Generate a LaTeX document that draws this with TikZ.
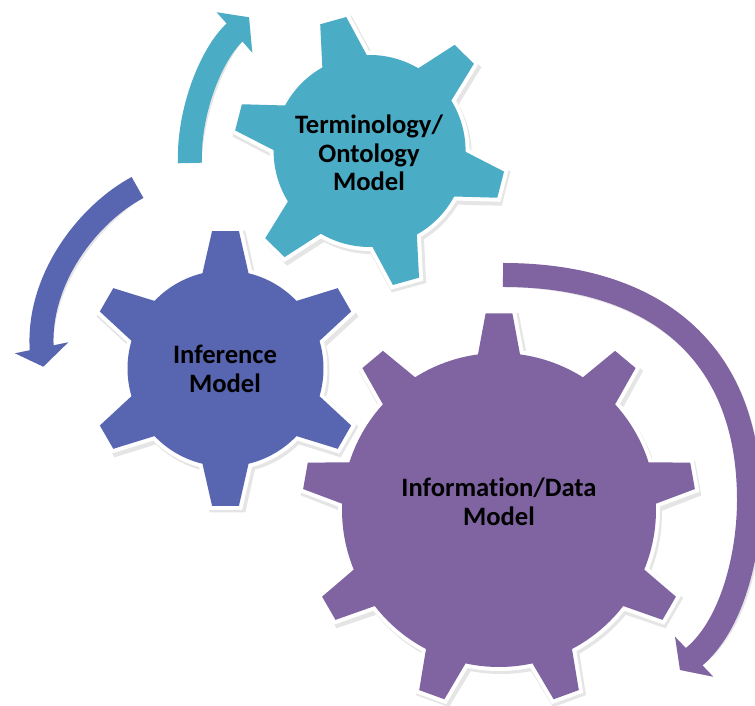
\documentclass[tikz,border=0pt]{standalone}
\usepackage{fontspec}
\setmainfont{Carlito}[Ligatures=NoCommon]
\definecolor{tealc}{RGB}{75,172,198}
\definecolor{bluec}{RGB}{88,102,177}
\definecolor{purplec}{RGB}{128,100,162}
\newcommand{\gearshape}[6]{%
 ({#4+#6}:#1)
 \foreach \k in {1,...,#3}{
   -- ({#4-360/#3*(\k-1)+#5}:#2) -- ({#4-360/#3*(\k-1)-#5}:#2) -- ({#4-360/#3*(\k-1)-#6}:#1)
   arc[start angle={#4-360/#3*(\k-1)-#6}, end angle={#4-360/#3*\k+#6}, radius=#1]
 } -- cycle}
\tikzset{
  gearbody/.style={fill=#1, preaction={draw=white, line width=8pt, line join=miter}},
  gearshadow/.style={fill=black, fill opacity=0.10},
  shaft/.style={draw=#1, line width=24pt, line cap=butt},
  shaftshadow/.style={draw=black, draw opacity=0.10, line width=24pt, line cap=butt},
  headtri/.style={fill=#1},
  gearlabel/.style={font=\fontsize{26.6}{28.5}\selectfont\bfseries, align=center, text=black, inner sep=0pt},
}
\begin{document}
\begin{tikzpicture}[x=1pt,y=1pt]
\useasboundingbox (0,0) rectangle (755,706);
% ---------- purple arrow
\coordinate (pa0) at (503,431);
\coordinate (pa1) at (749,206);
\coordinate (pa2) at (694.2,49.3);
\coordinate (pa3) at (691.3,46.5);
\coordinate (pb1) at (675,69.3);
\coordinate (pb2) at (713.3,29.3);
\coordinate (pt) at (680,36);
\begin{scope}[shift={(2,-2.5)}]
\draw[shaftshadow] (pa0) .. controls (653,431) and (749,356) .. (pa1) .. controls (749,151) and (732.2,81.4) .. (pa2) -- (pa3);
\fill[black, fill opacity=0.10] (pb1) -- (pt) -- (pb2) -- cycle;
\end{scope}
\draw[shaft=purplec] (pa0) .. controls (653,431) and (749,356) .. (pa1) .. controls (749,151) and (732.2,81.4) .. (pa2) -- (pa3);
\fill[headtri=purplec] (pb1) -- (pt) -- (pb2) -- cycle;
% ---------- purple gear
\begin{scope}[shift={(501,193)}]
  \path[gearshadow] \gearshape{161}{201}{9}{90}{5.0}{9.2};
\end{scope}
\begin{scope}[shift={(499,196)}]
  \path[gearbody=purplec] \gearshape{157}{197}{9}{90}{3.9}{7.7};
\end{scope}
% ---------- blue gear
\begin{scope}[shift={(227.5,334.5)}]
  \path[gearshadow] \gearshape{102}{142}{6}{90}{7.2}{15.6};
\end{scope}
\begin{scope}[shift={(225.5,337.5)}]
  \path[gearbody=bluec] \gearshape{98}{138}{6}{90}{5.6}{13.6};
\end{scope}
% ---------- teal gear
\begin{scope}[shift={(371.6,552)}]
  \path[gearshadow] \gearshape{100}{140}{6}{105.6}{7.3}{16.0};
\end{scope}
\begin{scope}[shift={(369.6,555)}]
  \path[gearbody=tealc] \gearshape{96}{136}{6}{105.6}{5.7}{13.9};
\end{scope}
\node[gearlabel] (tl) at (369,553) {Terminology/\\Ontology\\Model};
\node[gearlabel] (il) at (225,337) {Inference\\Model};
\node[gearlabel] (dl) at (499,204) {Information/Data\\Model};
% ---------- teal arrow
\coordinate (ta0) at (190,543);
\coordinate (ta1) at (234.5,673.5);
\coordinate (ta2) at (237.4,676.3);
\coordinate (tb1) at (216.7,693.7);
\coordinate (tb2) at (252.3,653.3);
\coordinate (tt) at (249,688.7);
\begin{scope}[shift={(2,-2.5)}]
\draw[shaftshadow] (ta0) .. controls (188.1,591) and (209.3,649.3) .. (ta1) -- (ta2);
\fill[black, fill opacity=0.10] (tb1) -- (tt) -- (tb2) -- cycle;
\end{scope}
\draw[shaft=tealc] (ta0) .. controls (188.1,591) and (209.3,649.3) .. (ta1) -- (ta2);
\fill[headtri=tealc] (tb1) -- (tt) -- (tb2) -- cycle;
% ---------- blue arrow
\coordinate (ba0) at (137.5,518.5);
\coordinate (ba1) at (41.65,358.2);
\coordinate (ba2) at (41.65,354);
\coordinate (bb1) at (15,352.7);
\coordinate (bb2) at (68.3,363.7);
\coordinate (bt) at (43.3,339.3);
\begin{scope}[shift={(2,-2.5)}]
\draw[shaftshadow] (ba0) .. controls (89.1,492.65) and (38,428.2) .. (ba1) -- (ba2);
\fill[black, fill opacity=0.10] (bb1) -- (bt) -- (bb2) -- cycle;
\end{scope}
\draw[shaft=bluec] (ba0) .. controls (89.1,492.65) and (38,428.2) .. (ba1) -- (ba2);
\fill[headtri=bluec] (bb1) -- (bt) -- (bb2) -- cycle;
\end{tikzpicture}
\end{document}
